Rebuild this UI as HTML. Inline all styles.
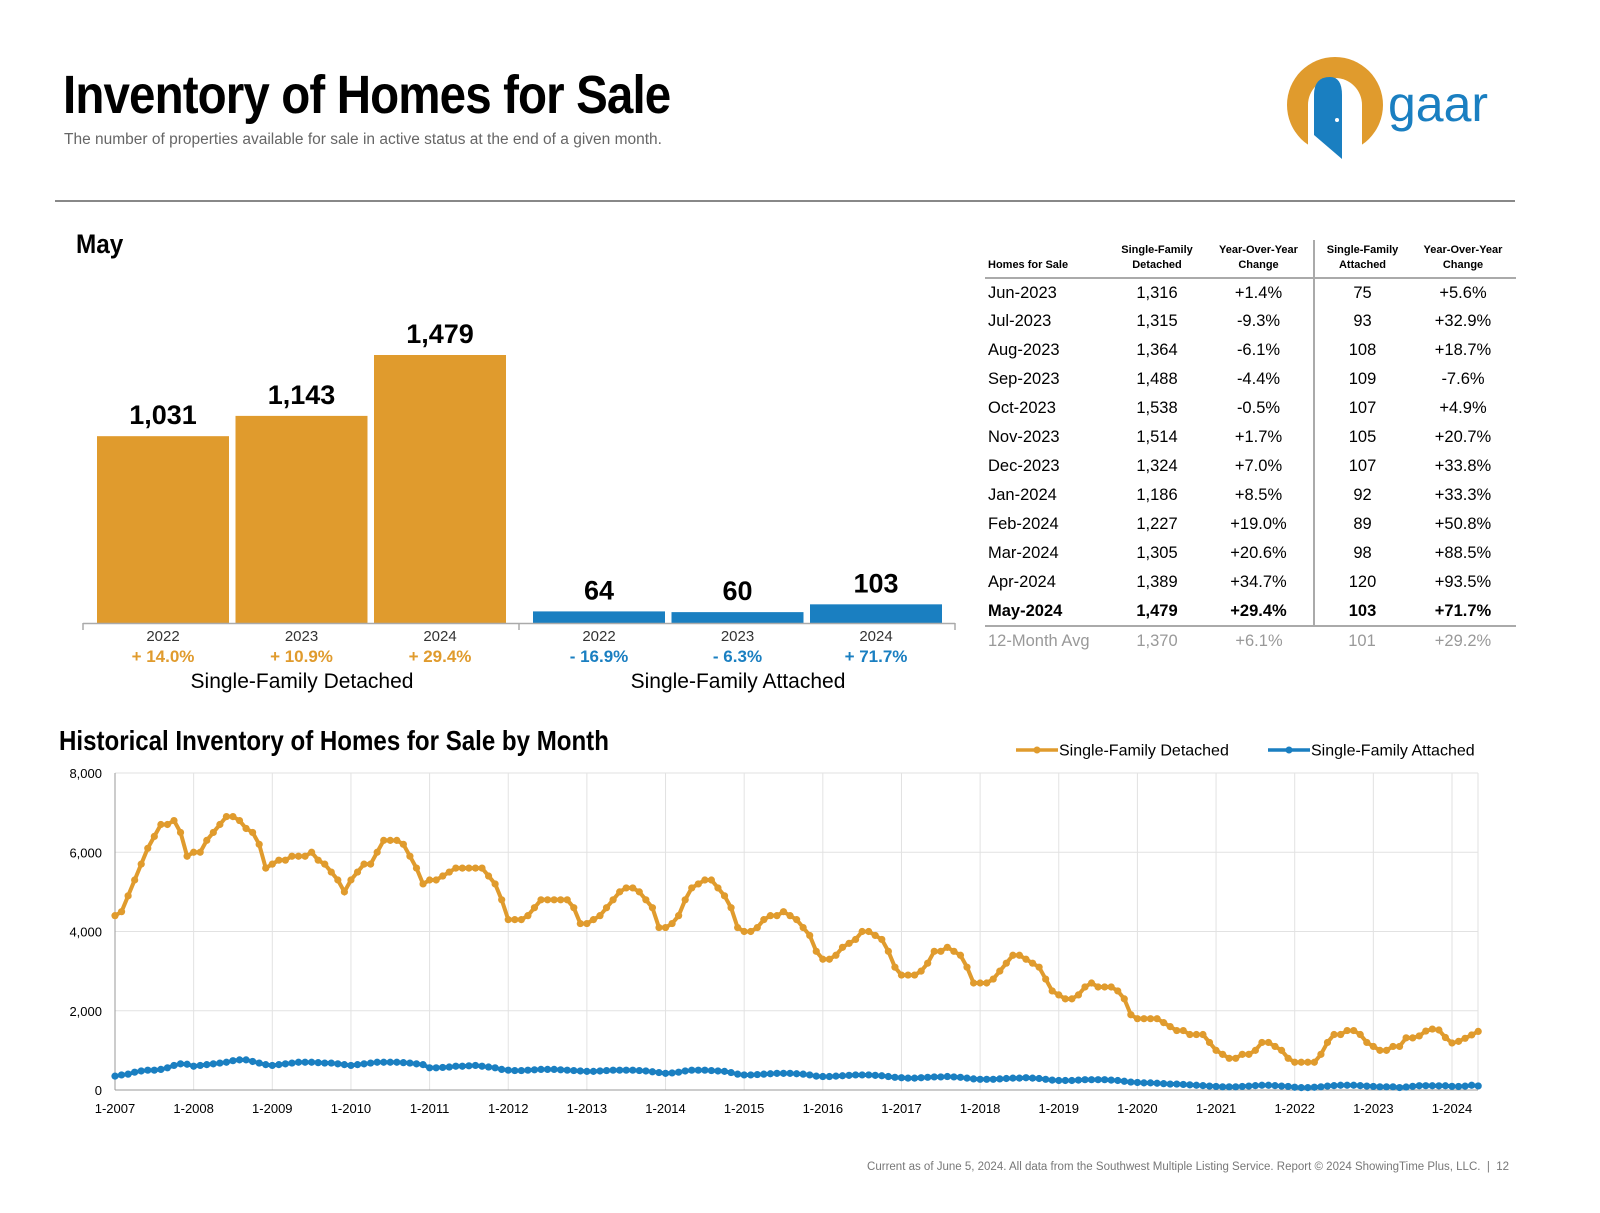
<!DOCTYPE html>
<html><head><meta charset="utf-8">
<style>
*{margin:0;padding:0;box-sizing:border-box}
body{width:1600px;height:1213px;background:#fff;font-family:"Liberation Sans",sans-serif;position:relative;overflow:hidden;color:#000}
.abs{position:absolute}
.title{left:63px;top:64px;font-family:"Liberation Sans Narrow","Liberation Sans",sans-serif;font-weight:bold;font-size:54px;letter-spacing:-1px;transform:scaleX(0.88);transform-origin:left}
.sub{left:64px;top:131px;font-size:15.5px;color:#666}
.hr{left:55px;top:200px;width:1460px;height:2px;background:#888}
.mayhead{left:76px;top:229px;font-family:"Liberation Sans Narrow","Liberation Sans",sans-serif;font-weight:bold;font-size:27px;transform:scaleX(0.9);transform-origin:left}
table{position:absolute;left:985px;top:240px;border-collapse:collapse;font-size:16.5px}
td,th{height:29px;text-align:center;padding:0}
th{font-size:11px;font-weight:bold;vertical-align:bottom;padding-bottom:4px;line-height:15px;height:38px;border-bottom:2px solid #aaa}
td.l,th.l{text-align:left;padding-left:3px}
.vdiv{border-left:2px solid #aaa}
tr.mayrow td{font-weight:bold;border-bottom:2px solid #aaa}
tr.avg td{color:#999}
.htitle{left:59px;top:725px;font-family:"Liberation Sans Narrow","Liberation Sans",sans-serif;font-weight:bold;font-size:28px;transform:scaleX(0.86);transform-origin:left}
.foot{right:91px;top:1161px;font-size:11.5px;color:#777}
</style></head><body>
<div class="abs title">Inventory of Homes for Sale</div>
<div class="abs sub">The number of properties available for sale in active status at the end of a given month.</div>
<svg class="abs" style="left:1280px;top:55px" width="240" height="110">
<circle cx="55" cy="50" r="48" fill="#e09b2d"/>
<circle cx="55" cy="50" r="27" fill="#fff"/>
<rect x="28" y="50" width="54" height="50" fill="#fff"/>
<path d="M34 40 Q34 22 50 22 Q62 22 62 40 L62 104 L34 80 Z" fill="#1a7fc1"/>
<circle cx="57" cy="65" r="2" fill="#fff"/>
<text x="108" y="66" font-family="Liberation Sans,sans-serif" font-size="50" fill="#1a7fc1">gaar</text>
</svg>
<div class="abs hr"></div>
<div class="abs mayhead">May</div>

<svg class="abs" style="left:0;top:0" width="980" height="700" id="bars"></svg>

<table>
<tr><th class="l" style="width:125px">Homes for Sale</th><th style="width:94px">Single-Family<br>Detached</th><th style="width:110px">Year-Over-Year<br>Change</th><th class="vdiv" style="width:96px">Single-Family<br>Attached</th><th style="width:106px">Year-Over-Year<br>Change</th></tr>
<tr><td class="l">Jun-2023</td><td>1,316</td><td>+1.4%</td><td class="vdiv">75</td><td>+5.6%</td></tr>
<tr><td class="l">Jul-2023</td><td>1,315</td><td>-9.3%</td><td class="vdiv">93</td><td>+32.9%</td></tr>
<tr><td class="l">Aug-2023</td><td>1,364</td><td>-6.1%</td><td class="vdiv">108</td><td>+18.7%</td></tr>
<tr><td class="l">Sep-2023</td><td>1,488</td><td>-4.4%</td><td class="vdiv">109</td><td>-7.6%</td></tr>
<tr><td class="l">Oct-2023</td><td>1,538</td><td>-0.5%</td><td class="vdiv">107</td><td>+4.9%</td></tr>
<tr><td class="l">Nov-2023</td><td>1,514</td><td>+1.7%</td><td class="vdiv">105</td><td>+20.7%</td></tr>
<tr><td class="l">Dec-2023</td><td>1,324</td><td>+7.0%</td><td class="vdiv">107</td><td>+33.8%</td></tr>
<tr><td class="l">Jan-2024</td><td>1,186</td><td>+8.5%</td><td class="vdiv">92</td><td>+33.3%</td></tr>
<tr><td class="l">Feb-2024</td><td>1,227</td><td>+19.0%</td><td class="vdiv">89</td><td>+50.8%</td></tr>
<tr><td class="l">Mar-2024</td><td>1,305</td><td>+20.6%</td><td class="vdiv">98</td><td>+88.5%</td></tr>
<tr><td class="l">Apr-2024</td><td>1,389</td><td>+34.7%</td><td class="vdiv">120</td><td>+93.5%</td></tr>
<tr class="mayrow"><td class="l">May-2024</td><td>1,479</td><td>+29.4%</td><td class="vdiv">103</td><td>+71.7%</td></tr>
<tr class="avg"><td class="l">12-Month Avg</td><td>1,370</td><td>+6.1%</td><td>101</td><td>+29.2%</td></tr>
</table>

<div class="abs htitle">Historical Inventory of Homes for Sale by Month</div>
<svg class="abs" style="left:0;top:730px" width="1600" height="400" id="line"></svg>
<div class="abs foot">Current as of June 5, 2024. All data from the Southwest Multiple Listing Service. Report © 2024 ShowingTime Plus, LLC. &nbsp;|&nbsp; 12</div>

<script>
const barYears=["2022","2023","2024"];
const detachedMay=[1031,1143,1479];
const attachedMay=[64,60,103];
const detachedChg=["+ 14.0%","+ 10.9%","+ 29.4%"];
const attachedChg=["- 16.9%","- 6.3%","+ 71.7%"];

const detached=[
4400,4500,4900,5300,5700,6100,6400,6700,6700,6800,6500,5900,
6000,6000,6300,6500,6700,6900,6900,6800,6600,6500,6200,5600,
5700,5800,5800,5900,5900,5900,6000,5800,5700,5500,5300,5000,
5300,5500,5700,5700,6000,6300,6300,6300,6200,5900,5600,5200,
5300,5300,5400,5500,5600,5600,5600,5600,5600,5400,5200,4800,
4300,4300,4300,4400,4600,4800,4800,4800,4800,4800,4600,4200,
4200,4300,4400,4600,4800,5000,5100,5100,5000,4800,4600,4100,
4100,4200,4400,4800,5100,5200,5300,5300,5100,4900,4600,4100,
4000,4000,4100,4300,4400,4400,4500,4400,4300,4100,3900,3500,
3300,3300,3400,3600,3700,3800,4000,4000,3900,3800,3500,3100,
2900,2900,2900,3000,3200,3500,3500,3600,3500,3400,3100,2700,
2700,2700,2800,3000,3200,3400,3400,3300,3200,3100,2800,2500,
2400,2300,2300,2400,2600,2700,2600,2600,2600,2500,2300,1900,
1800,1800,1800,1800,1700,1600,1500,1500,1400,1400,1400,1200,
1000,900,800,800,900,900,1000,1200,1200,1100,1000,800,
700,700,700,700,900,1200,1400,1400,1500,1500,1400,1200,
1100,1000,1000,1100,1100,1316,1315,1364,1488,1538,1514,1324,
1186,1227,1305,1389,1479];
const attached=[
350,380,400,450,480,500,500,520,560,620,660,650,
600,620,640,660,680,700,740,760,760,720,680,640,
620,640,660,680,700,700,700,690,680,680,660,640,
620,640,660,680,700,700,700,700,690,680,660,640,
560,560,570,580,600,600,610,620,600,580,560,520,
500,490,490,500,510,520,520,520,510,500,490,480,
470,470,480,490,500,500,500,500,490,480,460,440,
420,430,450,480,500,500,500,490,480,470,440,400,
380,380,390,400,410,420,420,420,410,400,380,350,
340,340,350,360,370,380,380,380,370,360,340,320,
310,300,300,310,320,330,330,340,330,320,300,280,
270,270,270,280,290,300,300,310,300,290,270,250,
240,240,240,250,260,260,260,260,250,240,220,200,
190,180,180,170,160,150,150,140,130,120,110,100,
90,80,80,80,90,100,110,120,120,110,100,90,
70,60,60,70,80,100,110,120,120,120,110,100,
90,80,80,80,62,75,93,108,109,107,105,107,
92,89,98,120,103];
const yTicks=[0,2000,4000,6000,8000];
const xTickYears=[2007,2008,2009,2010,2011,2012,2013,2014,2015,2016,2017,2018,2019,2020,2021,2022,2023,2024];

const NS="http://www.w3.org/2000/svg";
function mk(p,t,a,txt){const e=document.createElementNS(NS,t);for(const k in a)e.setAttribute(k,a[k]);if(txt!==undefined)e.textContent=txt;p.appendChild(e);return e;}
const fmt=v=>v.toLocaleString("en-US");

const bs=document.getElementById("bars");
const base=623, scale=268/1479;
const barH=v=>v*scale;
const groups=[{vals:detachedMay,chg:detachedChg,x0:97,col:"#e09b2d",tc:"#e09b2d",name:"Single-Family Detached",cx:302,key:"detached"},
{vals:attachedMay,chg:attachedChg,x0:533,col:"#1a7fc1",tc:"#1a7fc1",name:"Single-Family Attached",cx:738,key:"attached"}];
groups.forEach(g=>{
 g.vals.forEach((v,i)=>{
  const x=g.x0+i*138.5,h=barH(v);
  const r=mk(bs,"rect",{x:x,y:base-h,width:132,height:h,fill:g.col});
  
  
  const t=mk(bs,"text",{x:x+66,y:base-h-12,"text-anchor":"middle","font-size":"27","font-weight":"bold"},fmt(v));
  
  
  const yl=mk(bs,"text",{x:x+66,y:641,"text-anchor":"middle","font-size":"15",fill:"#333"},barYears[i]);
  
  
  const c=mk(bs,"text",{x:x+66,y:662,"text-anchor":"middle","font-size":"17","font-weight":"bold",fill:g.tc},g.chg[i]);
  
  
 });
 const gl=mk(bs,"text",{x:g.cx,y:688,"text-anchor":"middle","font-size":"21"},g.name);
 
 
});
mk(bs,"line",{x1:83,y1:623.5,x2:955,y2:623.5,stroke:"#aaa","stroke-width":1.5});
[83,519,955].forEach(x=>mk(bs,"line",{x1:x,y1:623,x2:x,y2:630,stroke:"#aaa","stroke-width":1.5}));

const ls=document.getElementById("line");
const X0=115,X1=1478,Y0=1090-730,Y1=773-730;
const xs=i=>X0+i*(1337/204);
const ys=v=>Y0-(v/8000)*(Y0-Y1);
yTicks.forEach(t=>{
 mk(ls,"line",{x1:X0,y1:ys(t),x2:X1,y2:ys(t),stroke:"#e2e2e2","stroke-width":1});
 const tl=mk(ls,"text",{x:102,y:ys(t)+5,"text-anchor":"end","font-size":"13"},fmt(t));
 
 
});
xTickYears.forEach((yr,k)=>{
 const x=xs(k*12);
 mk(ls,"line",{x1:x,y1:Y1,x2:x,y2:Y0,stroke:"#e2e2e2","stroke-width":1});
 const tl=mk(ls,"text",{x:x,y:Y0+23,"text-anchor":"middle","font-size":"13"},"1-"+yr);
 
 
});
mk(ls,"line",{x1:X1,y1:Y1,x2:X1,y2:Y0,stroke:"#e2e2e2"});
mk(ls,"line",{x1:X0,y1:Y1,x2:X0,y2:Y0,stroke:"#999"});
mk(ls,"line",{x1:X0,y1:Y0,x2:X1,y2:Y0,stroke:"#999"});
[[detached,"#e09b2d","detached"],[attached,"#1a7fc1","attached"]].forEach(([arr,col,key])=>{
 const p=mk(ls,"polyline",{points:arr.map((v,i)=>xs(i)+","+ys(v)).join(" "),fill:"none",stroke:col,"stroke-width":4});
 
 
 arr.forEach((v,i)=>mk(ls,"circle",{cx:xs(i),cy:ys(v),r:3.6,fill:col}));
});
[[1016,"#e09b2d","Single-Family Detached"],[1268,"#1a7fc1","Single-Family Attached"]].forEach(([x,col,lab])=>{
 mk(ls,"line",{x1:x,y1:20,x2:x+42,y2:20,stroke:col,"stroke-width":3.5});
 mk(ls,"circle",{cx:x+21,cy:20,r:3.5,fill:col});
 const t=mk(ls,"text",{x:x+43,y:25.5,"font-size":"16"},lab);
 
 
});
</script>
</body></html>
